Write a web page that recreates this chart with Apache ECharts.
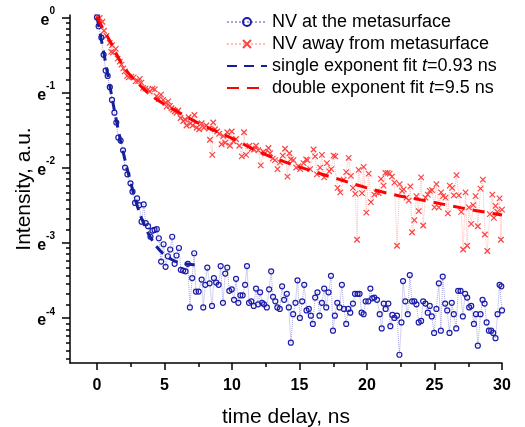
<!DOCTYPE html>
<html><head><meta charset="utf-8">
<script src="https://cdn.jsdelivr.net/npm/echarts@6/dist/echarts.min.js"></script>
<style>html,body{margin:0;padding:0;background:#fff}#c{width:525px;height:427px}</style>
</head><body><div id="c"></div>
<script>
// ---- data (time in ns, intensity as natural-log exponent) ----
const metaT = [0,0.12,0.32,0.49,0.64,0.79,0.95,1.11,1.29,1.43,1.58,1.75,1.93,2.08,2.25,2.48,2.63,2.82,2.97,3.12,3.30,3.46,3.61,3.78,3.96,4.11,4.26,4.43,4.58,4.75,4.93,5.08,5.25,5.42,5.57,5.75,5.89,6.07,6.21,6.38,6.56,6.73,6.88,7.05,7.20,7.33,7.53,7.75,7.87,8.02,8.17,8.34,8.52,8.66,8.83,9.01,9.16,9.33,9.50,9.65,9.80,9.98,10.15,10.30,10.47,10.62,10.79,10.97,11.11,11.26,11.43,11.61,11.78,11.93,12.08,12.23,12.37,12.58,12.75,12.90,13.04,13.21,13.36,13.54,13.71,13.86,14.06,14.21,14.36,14.53,14.70,14.85,15.03,15.20,15.35,15.52,15.69,15.84,15.99,16.16,16.33,16.48,16.66,16.83,16.98,17.15,17.33,17.48,17.62,17.80,17.97,18.14,18.29,18.46,18.61,18.76,18.96,19.11,19.30,19.45,19.60,19.75,19.90,20.10,20.25,20.39,20.54,20.74,20.94,21.09,21.24,21.38,21.58,21.73,21.88,22.03,22.22,22.40,22.55,22.67,22.84,23.02,23.17,23.34,23.51,23.66,23.83,24.01,24.16,24.33,24.50,24.65,24.80,24.97,25.14,25.32,25.47,25.61,25.79,25.94,26.11,26.28,26.43,26.61,26.75,26.93,27.10,27.27,27.42,27.57,27.72,27.92,28.07,28.21,28.41,28.56,28.71,28.86,29.03,29.20,29.35,29.52,29.67,29.82,29.95,30.0];
const metaY = [0,-0.12,-0.27,-0.50,-0.71,-0.78,-0.93,-1.10,-1.27,-1.40,-1.60,-1.64,-1.77,-2.00,-2.09,-2.21,-2.32,-2.47,-2.41,-2.50,-2.72,-2.49,-2.74,-2.78,-2.92,-2.84,-2.83,-2.82,-2.94,-3.25,-3.02,-3.32,-3.18,-3.09,-2.92,-3.28,-3.17,-3.07,-3.36,-3.37,-3.38,-3.28,-3.86,-3.47,-3.14,-3.65,-3.65,-3.49,-3.86,-3.56,-3.33,-3.54,-3.84,-3.47,-3.53,-3.56,-3.31,-3.80,-3.41,-3.33,-3.64,-3.62,-3.76,-3.48,-3.80,-3.70,-3.70,-3.56,-3.31,-3.80,-3.78,-3.84,-3.61,-3.82,-3.66,-3.80,-3.82,-3.86,-3.62,-3.38,-3.72,-3.78,-3.86,-3.88,-3.58,-3.76,-3.68,-3.86,-4.33,-3.95,-3.80,-3.50,-4.00,-3.78,-3.56,-3.90,-3.88,-3.97,-4.08,-3.73,-3.66,-3.97,-3.80,-3.61,-3.86,-3.66,-3.44,-4.17,-3.97,-3.80,-3.86,-3.56,-3.88,-4.08,-3.88,-3.93,-3.81,-3.68,-3.68,-3.68,-3.93,-3.95,-3.78,-3.78,-3.61,-3.74,-3.73,-3.76,-3.95,-4.14,-3.81,-3.88,-3.81,-4.11,-3.96,-4.00,-3.97,-4.49,-4.06,-3.51,-3.78,-3.95,-3.43,-3.78,-3.78,-3.82,-4.06,-4.04,-3.78,-3.81,-3.93,-3.84,-3.98,-4.20,-3.88,-3.54,-4.17,-3.45,-3.81,-3.90,-4.20,-3.80,-3.95,-4.14,-3.64,-3.64,-3.98,-3.68,-3.73,-3.86,-3.84,-4.08,-3.95,-4.37,-3.95,-3.76,-3.81,-4.06,-4.17,-4.17,-4.20,-4.27,-3.95,-3.56,-3.58,-3.90];

const awayT = [0.03,0.20,0.40,0.52,0.70,0.94,1.05,1.12,1.19,1.39,1.53,1.69,1.81,1.95,2.06,2.23,2.35,2.55,2.72,2.87,3.05,3.17,3.29,3.42,3.59,3.79,3.91,4.11,4.28,4.41,4.58,4.74,4.90,5.08,5.15,5.27,5.40,5.52,5.64,5.77,5.89,6.02,6.19,6.39,6.51,6.63,6.78,6.93,7.08,7.22,7.38,7.57,7.75,7.92,8.10,8.29,8.37,8.54,8.61,8.74,8.90,9.05,9.23,9.36,9.50,9.65,9.85,9.98,10.10,10.30,10.54,10.72,10.89,11.04,11.29,11.46,11.63,11.78,11.95,12.13,12.33,12.45,12.70,12.82,13.02,13.19,13.37,13.56,13.76,13.93,14.11,14.25,14.36,14.55,14.75,14.92,15.05,15.30,15.49,15.59,15.79,16.04,16.16,16.29,16.53,16.66,16.83,17.03,17.20,17.35,17.52,17.65,17.82,18.02,18.27,18.46,18.64,18.81,18.96,19.13,19.26,19.38,19.63,19.75,19.95,20.12,20.29,20.54,20.69,20.86,21.04,21.23,21.36,21.53,21.68,21.85,22.03,22.22,22.42,22.60,22.72,22.92,23.09,23.21,23.34,23.51,23.66,23.83,24.01,24.16,24.33,24.50,24.65,24.82,25.00,25.14,25.32,25.49,25.64,25.81,25.99,26.13,26.31,26.43,26.63,26.80,26.98,27.12,27.30,27.42,27.55,27.72,27.87,28.04,28.21,28.41,28.58,28.73,28.91,29.10,29.28,29.40,29.52,29.65,29.82,29.92,30.00];
const awayY = [0.00,-0.01,-0.06,-0.18,-0.25,-0.34,-0.46,-0.37,-0.47,-0.42,-0.55,-0.59,-0.63,-0.68,-0.72,-0.78,-0.80,-0.79,-0.80,-0.85,-0.85,-0.82,-0.87,-0.94,-0.95,-0.96,-0.99,-0.95,-0.96,-1.05,-1.09,-1.03,-1.10,-1.14,-1.19,-1.12,-1.18,-1.21,-1.23,-1.25,-1.27,-1.24,-1.34,-1.38,-1.36,-1.44,-1.33,-1.41,-1.44,-1.30,-1.47,-1.49,-1.41,-1.47,-1.44,-1.48,-1.63,-1.83,-1.40,-1.49,-1.52,-1.55,-1.69,-1.58,-1.67,-1.53,-1.71,-1.52,-1.65,-1.62,-1.71,-1.85,-1.53,-1.83,-1.71,-1.75,-1.76,-1.71,-1.77,-1.97,-1.79,-1.81,-1.74,-1.81,-1.88,-1.90,-2.02,-1.93,-1.84,-1.75,-2.12,-1.81,-1.89,-1.90,-2.00,-1.98,-2.02,-1.94,-1.89,-1.90,-2.02,-1.76,-1.85,-2.09,-2.00,-1.83,-2.13,-1.94,-2.05,-2.02,-1.84,-1.85,-2.27,-2.33,-2.16,-2.06,-1.87,-2.11,-2.27,-2.35,-2.96,-2.03,-2.34,-1.99,-2.60,-2.08,-2.46,-2.36,-2.33,-2.34,-2.15,-2.24,-2.07,-2.07,-2.08,-2.12,-2.20,-3.04,-2.22,-2.31,-2.29,-2.40,-2.44,-2.25,-2.86,-2.70,-2.38,-2.58,-2.13,-2.77,-2.40,-2.36,-2.31,-2.30,-2.53,-2.22,-2.53,-2.33,-2.38,-2.40,-2.61,-2.24,-2.27,-2.37,-2.10,-2.37,-2.59,-3.09,-2.33,-3.04,-2.53,-2.75,-2.50,-2.38,-2.78,-2.28,-2.16,-2.89,-3.11,-2.62,-2.36,-2.67,-2.51,-2.59,-2.41,-2.96,-2.56];

const singleFitT = [0,0.5,1,1.5,2,2.5,3,3.5,4,4.5,5,5.5,6,6.5,7,7.5];
const singleFitY = [0,-0.47,-0.96,-1.43,-1.84,-2.20,-2.52,-2.76,-2.94,-3.07,-3.16,-3.22,-3.26,-3.28,-3.29,-3.30];
const doubleFitT = [0,0.5,1,1.5,2,2.5,3,3.5,4,5,6,7,8,9,10,12,14,16,18,20,22,24,26,28,30];
const doubleFitY = [0,-0.17,-0.33,-0.51,-0.66,-0.78,-0.87,-0.96,-1.04,-1.16,-1.26,-1.36,-1.45,-1.53,-1.61,-1.79,-1.93,-2.05,-2.16,-2.27,-2.36,-2.43,-2.50,-2.57,-2.63];

const seriesNames = ['NV at the metasurface','NV away from metasurface','single exponent fit t=0.93 ns','double exponent fit t=9.5 ns'];
const xTickLabels = [0,5,10,15,20,25,30];
const yTickExponents = [0,-1,-2,-3,-4];

// ---- layout ----
const X_MIN = -2, X_MAX = 30, Y_MIN = -4.6, Y_MAX = 0.03;
const FONT = 'Liberation Sans, Arial, sans-serif';
const zip = (a, b) => a.map((v, i) => [v, b[i]]);
const xMinor = xTickLabels.slice(0, -1).map((v, i) => (v + xTickLabels[i + 1]) / 2);
const yMinor = [];
yTickExponents.forEach(n => {
  for (let k = 1; k <= 8; k++) {
    const v = n + Math.log(1 - k * (1 - Math.exp(-1)) / 9);
    if (v >= Y_MIN) yMinor.push(v);
  }
});
const axisCol = '#000';
const lineW = 1.5;

const chart = echarts.init(document.getElementById('c'), null, {renderer: 'canvas'});
chart.setOption({
  animation: false,
  backgroundColor: '#fff',
  textStyle: {fontFamily: FONT},
  grid: {left: 70, right: 23, top: 15, bottom: 64, containLabel: false, outerBoundsMode: 'none'},
  legend: {
    orient: 'vertical', left: 226, top: 13, padding: 0,
    itemWidth: 40, itemHeight: 10, itemGap: 4,
    textStyle: {fontSize: 18, color: '#000', fontFamily: FONT, lineHeight: 18,
      rich: {i: {fontStyle: 'italic', fontSize: 18, color: '#000', fontFamily: FONT, lineHeight: 18}}},
    formatter: n => n.replace(' t=', ' {i|t}='),
    data: [
      {name: seriesNames[0]},
      {name: seriesNames[1]},
      {name: seriesNames[2], itemStyle: {opacity: 0}},
      {name: seriesNames[3], itemStyle: {opacity: 0}}
    ]
  },
  xAxis: [{
    type: 'value', min: X_MIN, max: X_MAX, position: 'bottom',
    axisLine: {show: true, onZero: false, lineStyle: {color: axisCol, width: lineW}},
    axisTick: {show: true, customValues: xTickLabels, length: 7, lineStyle: {color: axisCol, width: lineW}},
    axisLabel: {customValues: xTickLabels, fontSize: 16, fontWeight: 'bold', color: '#000', margin: 15, fontFamily: FONT},
    splitLine: {show: false},
    name: 'time delay, ns', nameLocation: 'middle', nameGap: 44, nameMoveOverlap: false,
    nameTextStyle: {fontSize: 21, color: '#000', fontFamily: FONT}
  }, {
    type: 'value', min: X_MIN, max: X_MAX, position: 'bottom',
    axisLine: {show: false, onZero: false},
    axisTick: {show: true, customValues: xMinor, length: 4, lineStyle: {color: axisCol, width: lineW}},
    axisLabel: {show: false}, splitLine: {show: false}
  }],
  yAxis: [{
    type: 'value', min: Y_MIN, max: Y_MAX, position: 'left',
    axisLine: {show: true, onZero: false, lineStyle: {color: axisCol, width: lineW}},
    axisTick: {show: true, customValues: yTickExponents, length: 8, lineStyle: {color: axisCol, width: lineW}},
    axisLabel: {
      customValues: yTickExponents, margin: 15, color: '#000',
      formatter: v => '{b|e}{s|' + Math.round(v) + '}',
      rich: {
        b: {fontSize: 16, fontWeight: 'bold', color: '#000', fontFamily: FONT, lineHeight: 22, verticalAlign: 'bottom'},
        s: {fontSize: 10, fontWeight: 'bold', color: '#000', fontFamily: FONT, lineHeight: 14, verticalAlign: 'top'}
      }
    },
    splitLine: {show: false},
    name: 'Intensity, a.u.', nameLocation: 'middle', nameGap: 35, nameMoveOverlap: false,
    nameTextStyle: {fontSize: 21, color: '#000', fontFamily: FONT}
  }, {
    type: 'value', min: Y_MIN, max: Y_MAX, position: 'left',
    axisLine: {show: false, onZero: false},
    axisTick: {show: true, customValues: yMinor, length: 4, lineStyle: {color: axisCol, width: lineW}},
    axisLabel: {show: false}, splitLine: {show: false}
  }],
  series: [{
    name: seriesNames[0], type: 'line', data: zip(metaT, metaY),
    symbol: 'circle', symbolSize: 5, z: 3,
    itemStyle: {color: 'rgba(0,0,0,0)', borderColor: '#1c1caa', borderWidth: 1.2},
    lineStyle: {color: '#a4a4e4', width: 1, type: 'dotted'}
  }, {
    name: seriesNames[1], type: 'line', data: zip(awayT, awayY),
    symbol: 'path://M0,0L10,10M10,0L0,10', symbolSize: 5.5, z: 2,
    itemStyle: {color: 'rgba(0,0,0,0)', borderColor: '#ff4040', borderWidth: 1.2},
    lineStyle: {color: '#ffbcbc', width: 1, type: 'dotted'}
  }, {
    name: seriesNames[2], type: 'line', data: zip(singleFitT, singleFitY),
    symbol: 'none', smooth: true, z: 5,
    itemStyle: {color: '#13209c'},
    lineStyle: {color: '#13209c', width: 3, type: [10, 7]}
  }, {
    name: seriesNames[3], type: 'line', data: zip(doubleFitT, doubleFitY),
    symbol: 'none', smooth: true, z: 5,
    itemStyle: {color: '#ff0000'},
    lineStyle: {color: '#ff0000', width: 3, type: [12, 8]}
  }]
});
</script></body></html>
